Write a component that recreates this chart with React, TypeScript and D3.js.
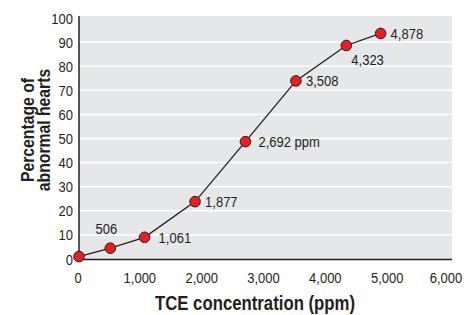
import React, { useRef, useEffect } from "react";
import * as d3 from "d3";

// TCE concentration (ppm) and % abnormal hearts
const concentrations = [0, 506, 1061, 1877, 2692, 3508, 4323, 4878];
const percentAbnormal = [1, 4.5, 9, 23.8, 48.7, 73.9, 88.6, 93.6];
const pointLabels = ["", "506", "1,061", "1,877", "2,692 ppm", "3,508", "4,323", "4,878"];
const xTicks = [0, 1000, 2000, 3000, 4000, 5000, 6000];
const yTicks = [0, 10, 20, 30, 40, 50, 60, 70, 80, 90, 100];

const width = 464;
const height = 315;
const font = "'Liberation Sans', Arial, sans-serif";
const ink = "#231f20";
const squeeze = 0.84; // condensed look

function App() {
  const svgRef = useRef<SVGSVGElement>(null);

  useEffect(() => {
    const svg = d3.select(svgRef.current);
    svg.selectAll("*").remove();

    const left = 79, right = 452, top = 16, bottom = 259;

    const xScale = d3.scaleLinear().domain([0, 6000]).range([left, 450]);
    const yScale = d3.scaleLinear().domain([0, 100]).range([bottom, 18]);

    //Hintergrund
    svg.append("rect")
      .attr("x", left).attr("y", top)
      .attr("width", right - left).attr("height", bottom - top)
      .attr("fill", "#e6e7e8");

    //Grids
    svg.append("g")
      .selectAll("line")
      .data(yTicks.filter(t => t > 0 && t < 100))
      .join("line")
      .attr("x1", left).attr("x2", right)
      .attr("y1", d => yScale(d)).attr("y2", d => yScale(d))
      .attr("stroke", "#ffffff")
      .attr("stroke-width", 1.5);

    // axes lines
    svg.append("line")
      .attr("x1", left).attr("x2", left).attr("y1", top).attr("y2", bottom + 1)
      .attr("stroke", ink).attr("stroke-width", 1.5);
    svg.append("line")
      .attr("x1", left).attr("x2", right).attr("y1", bottom + 0.5).attr("y2", bottom + 0.5)
      .attr("stroke", ink).attr("stroke-width", 1.5);

    // y tick labels
    svg.append("g")
      .selectAll("text")
      .data(yTicks)
      .join("text")
      .attr("transform", d => `translate(73,${yScale(d)}) scale(${squeeze},1)`)
      .attr("dy", "0.36em")
      .attr("text-anchor", "end")
      .attr("font-family", font)
      .attr("font-size", 15.5)
      .attr("fill", ink)
      .text(d => d);

    // x tick labels (last one kept inside the picture)
    svg.append("g")
      .selectAll("text")
      .data(xTicks)
      .join("text")
      .attr("transform", d => `translate(${Math.min(xScale(d) - 1, 446)},283) scale(${squeeze},1)`)
      .attr("text-anchor", "middle")
      .attr("font-family", font)
      .attr("font-size", 15.5)
      .attr("fill", ink)
      .text(d => d3.format(",")(d));

    //Achsen-Beschriftung
    svg.append("text")
      .attr("transform", `translate(255,310) scale(0.86,1)`)
      .attr("text-anchor", "middle")
      .attr("font-family", font)
      .attr("font-size", 19.5)
      .attr("font-weight", "bold")
      .attr("fill", ink)
      .text("TCE concentration (ppm)");

    const yTitle = svg.append("text")
      .attr("transform", "translate(0,130) rotate(-90) scale(0.9,1)")
      .attr("text-anchor", "middle")
      .attr("font-family", font)
      .attr("font-size", 17.5)
      .attr("font-weight", "bold")
      .attr("fill", ink);
    yTitle.append("tspan").attr("x", 0).attr("y", 34).text("Percentage of");
    yTitle.append("tspan").attr("x", 0).attr("y", 50).text("abnormal hearts");

    const points = concentrations.map((c, i) => ({ c, p: percentAbnormal[i], label: pointLabels[i], i }));

    const myLine = d3.line<{ c: number; p: number }>()
      .x(d => xScale(d.c))
      .y(d => yScale(d.p));

    svg.append("path")
      .datum(points)
      .attr("d", myLine)
      .attr("fill", "none")
      .attr("stroke", ink)
      .attr("stroke-width", 1.3);

    svg.append("g")
      .selectAll("circle")
      .data(points)
      .join("circle")
      .attr("cx", d => xScale(d.c))
      .attr("cy", d => yScale(d.p))
      .attr("r", 5.3)
      .attr("fill", "#ed1c24")
      .attr("stroke", ink)
      .attr("stroke-width", 1);

    // label offsets: 506 above, 4,323 below, rest to the right
    const offset = (i: number) => {
      if (i === 1) return { dx: -4, dy: -20, anchor: "middle" };
      if (i === 2) return { dx: 14, dy: 0, anchor: "start" };
      if (i === 6) return { dx: 5, dy: 14, anchor: "start" };
      if (i === 4) return { dx: 13, dy: 0, anchor: "start" };
      return { dx: 10, dy: 0, anchor: "start" };
    };

    svg.append("g")
      .selectAll("text")
      .data(points.filter(d => d.label !== ""))
      .join("text")
      .attr("transform", d =>
        `translate(${xScale(d.c) + offset(d.i).dx},${yScale(d.p) + offset(d.i).dy}) scale(${squeeze},1)`)
      .attr("dy", "0.36em")
      .attr("text-anchor", d => offset(d.i).anchor)
      .attr("font-family", font)
      .attr("font-size", 15.5)
      .attr("fill", ink)
      .text(d => d.label);
  }, []);

  return (
    <svg
      ref={svgRef}
      width={width}
      height={height}
      style={{ position: "absolute", top: 0, left: 0, background: "#ffffff" }}
    />
  );
}

export default App;
